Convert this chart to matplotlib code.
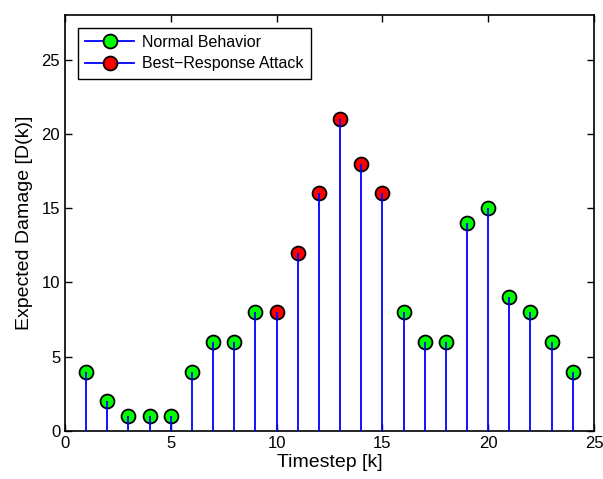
import numpy as np
import matplotlib.pyplot as plt

# donnees
timestep = np.arange(1, 25)
damage = [4, 2, 1, 1, 1, 4, 6, 6, 8, 8, 12, 16, 21, 18, 16, 8, 6, 6, 14, 15, 9, 8, 6, 4]
attack_steps = [10, 11, 12, 13, 14, 15]

plt.rcParams['font.family'] = ['Liberation Sans', 'DejaVu Sans']

fig = plt.figure(figsize=(6.03, 4.79), dpi=100)
ax = fig.add_axes([0.1078, 0.1002, 0.8772, 0.8685])

is_attack = np.isin(timestep, attack_steps)
dmg = np.array(damage)

# markers first, stems on top (like MATLAB stem)
ax.plot(timestep[~is_attack], dmg[~is_attack], 'o', ms=10, mfc='#00ff00', mec='k', mew=1.3, zorder=2)
ax.plot(timestep[is_attack], dmg[is_attack], 'o', ms=10, mfc='#ff0000', mec='k', mew=1.3, zorder=2)
ax.vlines(timestep, 0, dmg, colors='#0000ff', lw=1.3, zorder=3)

# legend handles
h1, = ax.plot([], [], '-o', color='#0000ff', ms=10, mfc='#00ff00', mec='k', mew=1.3, lw=1.3)
h2, = ax.plot([], [], '-o', color='#0000ff', ms=10, mfc='#ff0000', mec='k', mew=1.3, lw=1.3)
leg = ax.legend([h1, h2], ['Normal Behavior', 'Best\u2212Response Attack'], loc='upper left',
                fontsize=11.5, fancybox=False, edgecolor='k', markerfirst=True,
                handlelength=3.1, borderpad=0.45, labelspacing=0.4,
                borderaxespad=0.8, handletextpad=0.5, framealpha=1)
leg.get_frame().set_linewidth(1.0)
for line in leg.get_lines():
    line.set_markevery([1])

ax.set_xlim(0, 25)
ax.set_ylim(0, 28)
ax.set_xticks([0, 5, 10, 15, 20, 25])
ax.set_yticks([0, 5, 10, 15, 20, 25])
ax.tick_params(direction='in', top=True, right=True, labelsize=12, length=5, width=1)
for s in ax.spines.values():
    s.set_linewidth(1.2)

ax.set_xlabel('Timestep [k]', fontsize=14, labelpad=2)
ax.set_ylabel('Expected Damage [D(k)]', fontsize=14, labelpad=6)

fig.savefig('out.png', dpi=100)
